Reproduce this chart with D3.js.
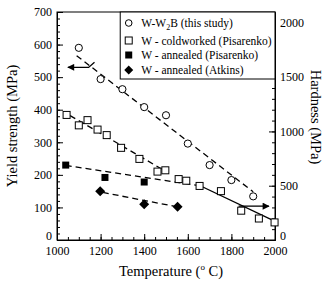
<!DOCTYPE html>
<html>
<head>
<meta charset="utf-8">
<script src="https://cdn.jsdelivr.net/npm/d3@7"></script>
<style>
  body { margin: 0; background: #fff; }
  svg text { font-family: "Liberation Serif", "DejaVu Serif", "Noto Serif", serif; }
  .axis path, .axis line { stroke: #000; }
  .axis text { font-size: 12px; fill: #000; }
</style>
</head>
<body>
<svg id="chart" width="329" height="283"></svg>
<script>
// W-W2B (this study)
var w2bTemp = [1100, 1200, 1300, 1400, 1500, 1600, 1700, 1800, 1900];
var w2bYield = [590, 494, 463, 408, 383, 296, 230, 184, 134];
// W - coldworked (Pisarenko)
var coldTemp = [1044, 1100, 1140, 1186, 1228, 1294, 1378, 1461, 1497, 1558, 1593, 1654, 1752, 1845, 1926, 1998];
var coldYield = [384, 352, 368, 339, 322, 283, 249, 210, 214, 187, 182, 166, 150, 90, 66, 54];
// W - annealed (Pisarenko)
var annTemp = [1040, 1220, 1400];
var annYield = [230, 192, 178];
// W - annealed (Atkins)
var atkTemp = [1198, 1400, 1553];
var atkYield = [150, 110, 102];

// trend lines drawn in the figure (endpoints)
var fitW2b = [[1090, 566], [1900, 148]];
var fitCold = [[1060, 382], [1480, 218]];
var fitAnn = [[1040, 229], [1650, 167]];
var fitAtk = [[1210, 146], [1550, 102]];
var fitHigh = [[1652, 168], [1998, 58]];

var leftTicks = [0, 100, 200, 300, 400, 500, 600, 700];
var rightTicks = [0, 500, 1000, 1500, 2000];
var bottomTicks = [1000, 1200, 1400, 1600, 1800, 2000];

var legendLabels = ["W-W2B (this study)", "W - coldworked (Pisarenko)", "W - annealed (Pisarenko)", "W - annealed (Atkins)"];

var serif = "Liberation Serif, DejaVu Serif, Noto Serif, serif";
var margin = { top: 12, right: 54, bottom: 43, left: 57 };
var svg = d3.select("#chart");
var width = 329 - margin.left - margin.right;
var height = 283 - margin.top - margin.bottom;

var x = d3.scaleLinear().domain([1000, 2000]).range([0, width]);
var y = d3.scaleLinear().domain([0, 700]).range([height, 0]);
var yh = d3.scaleLinear().domain([0, 2100]).range([height, 0]);

var g = svg.append("g").attr("transform", "translate(" + margin.left + "," + margin.top + ")");

// minor ticks
var minorX = d3.range(1000, 2001, 50);
var minorY = d3.range(0, 701, 20);
var minorYh = d3.range(0, 2101, 100);

g.append("g").attr("class", "axis")
  .attr("transform", "translate(0," + height + ")")
  .call(d3.axisBottom(x).tickValues(minorX).tickSize(-3).tickFormat(""))
  .select(".domain").remove();
g.append("g").attr("class", "axis")
  .call(d3.axisLeft(y).tickValues(minorY).tickSize(-3).tickFormat(""))
  .select(".domain").remove();
g.append("g").attr("class", "axis")
  .attr("transform", "translate(" + width + ",0)")
  .call(d3.axisRight(yh).tickValues(minorYh).tickSize(-3).tickFormat(""))
  .select(".domain").remove();

// major ticks
var bAxis = g.append("g").attr("class", "axis")
  .attr("transform", "translate(0," + height + ")")
  .call(d3.axisBottom(x).tickValues(bottomTicks).tickSize(-6).tickPadding(6).tickFormat(d3.format("d")));
var lAxis = g.append("g").attr("class", "axis")
  .call(d3.axisLeft(y).tickValues(leftTicks).tickSize(-6).tickPadding(5).tickFormat(d3.format("d")));
var rAxis = g.append("g").attr("class", "axis")
  .attr("transform", "translate(" + width + ",0)")
  .call(d3.axisRight(yh).tickValues(rightTicks).tickSize(-6).tickPadding(5).tickFormat(d3.format("d")));
[bAxis, lAxis, rAxis].forEach(function(a) {
  a.attr("font-family", serif).attr("font-size", 12);
});
// lift the zero labels a little off the bottom labels
lAxis.selectAll(".tick text").filter(function(d) { return d === 0; }).attr("dy", "-0.05em");
rAxis.selectAll(".tick text").filter(function(d) { return d === 0; }).attr("dy", "-0.05em");

// frame
g.append("rect")
  .attr("width", width)
  .attr("height", height)
  .attr("fill", "none")
  .attr("stroke", "#000");

var line = d3.line()
  .x(function(d) { return x(d[0]); })
  .y(function(d) { return y(d[1]); });

[fitW2b, fitCold, fitAnn, fitAtk].forEach(function(f) {
  g.append("path")
    .attr("d", line(f))
    .attr("fill", "none")
    .attr("stroke", "#000")
    .attr("stroke-width", 1.3)
    .attr("stroke-dasharray", "6,4");
});
g.append("path")
  .attr("d", line(fitHigh))
  .attr("fill", "none")
  .attr("stroke", "#000")
  .attr("stroke-width", 1.3);

// arrows
svg.append("defs").append("marker")
  .attr("id", "head")
  .attr("viewBox", "0 0 10 10")
  .attr("refX", 9)
  .attr("refY", 5)
  .attr("markerWidth", 9)
  .attr("markerHeight", 7)
  .attr("markerUnits", "userSpaceOnUse")
  .attr("orient", "auto")
  .append("path")
  .attr("d", "M0,0L10,5L0,10Z")
  .attr("fill", "#000");

g.append("path")
  .attr("d", line([[1172, 546], [1145, 530], [1050, 530]]))
  .attr("fill", "none")
  .attr("stroke", "#000")
  .attr("stroke-width", 1.3)
  .attr("marker-end", "url(#head)");
g.append("path")
  .attr("d", line([[1833, 104], [1972, 104]]))
  .attr("fill", "none")
  .attr("stroke", "#000")
  .attr("stroke-width", 1.3)
  .attr("marker-end", "url(#head)");

// markers
var sq = 7;
g.selectAll(".w2b").data(d3.zip(w2bTemp, w2bYield)).enter().append("circle")
  .attr("cx", function(d) { return x(d[0]); })
  .attr("cy", function(d) { return y(d[1]); })
  .attr("r", 3.6)
  .attr("fill", "#fff")
  .attr("stroke", "#000");
g.selectAll(".cold").data(d3.zip(coldTemp, coldYield)).enter().append("rect")
  .attr("x", function(d) { return x(d[0]) - sq / 2; })
  .attr("y", function(d) { return y(d[1]) - sq / 2; })
  .attr("width", sq)
  .attr("height", sq)
  .attr("fill", "#fff")
  .attr("stroke", "#000");
g.selectAll(".ann").data(d3.zip(annTemp, annYield)).enter().append("rect")
  .attr("x", function(d) { return x(d[0]) - sq / 2; })
  .attr("y", function(d) { return y(d[1]) - sq / 2; })
  .attr("width", sq)
  .attr("height", sq)
  .attr("fill", "#000");
g.selectAll(".atk").data(d3.zip(atkTemp, atkYield)).enter().append("path")
  .attr("transform", function(d) { return "translate(" + x(d[0]) + "," + y(d[1]) + ")"; })
  .attr("d", "M0,-5L5,0L0,5L-5,0Z")
  .attr("fill", "#000");

// legend
var lg = g.append("g").attr("transform", "translate(" + (x(1290)) + ",0)");
var lw = width - x(1290);
lg.append("rect")
  .attr("width", lw)
  .attr("height", 67)
  .attr("fill", "#fff")
  .attr("stroke", "#000");
var rowY = [11, 28.5, 43, 58];
var mx = 8.5;
lg.append("circle").attr("cx", mx).attr("cy", rowY[0]).attr("r", 3.3).attr("fill", "#fff").attr("stroke", "#000");
lg.append("rect").attr("x", mx - 3.5).attr("y", rowY[1] - 3.5).attr("width", 7).attr("height", 7).attr("fill", "#fff").attr("stroke", "#000");
lg.append("rect").attr("x", mx - 3.5).attr("y", rowY[2] - 3.5).attr("width", 7).attr("height", 7).attr("fill", "#000");
lg.append("path").attr("transform", "translate(" + mx + "," + rowY[3] + ")").attr("d", "M0,-4.5L4.5,0L0,4.5L-4.5,0Z").attr("fill", "#000");

var t0 = lg.append("text").attr("x", 21).attr("y", rowY[0] + 4).attr("font-size", "11.5px").attr("font-family", serif);
t0.append("tspan").text("W-W");
t0.append("tspan").attr("font-size", "8px").attr("dy", 3).text("2");
t0.append("tspan").attr("dy", -3).text("B (this study)");
legendLabels.slice(1).forEach(function(s, i) {
  lg.append("text")
    .attr("x", 21)
    .attr("y", rowY[i + 1] + 4)
    .attr("font-size", "11.5px")
    .attr("font-family", serif)
    .text(s);
});

// axis titles
svg.append("text")
  .attr("transform", "translate(17," + (margin.top + height / 2) + ") rotate(-90)")
  .attr("text-anchor", "middle")
  .attr("font-size", "14.5px")
  .attr("font-family", serif)
  .text("Yield strength (MPa)");
svg.append("text")
  .attr("transform", "translate(311,117) rotate(90)")
  .attr("text-anchor", "middle")
  .attr("font-size", "14.5px")
  .attr("font-family", serif)
  .text("Hardness (MPa)");
var tt = svg.append("text")
  .attr("x", margin.left + width / 2 + 5)
  .attr("y", 276)
  .attr("text-anchor", "middle")
  .attr("font-size", "14.5px")
  .attr("font-family", serif);
tt.append("tspan").text("Temperature (");
tt.append("tspan").attr("font-size", "9px").attr("dy", -6).text("o");
tt.append("tspan").attr("dy", 6).text(" C)");
</script>
</body>
</html>
